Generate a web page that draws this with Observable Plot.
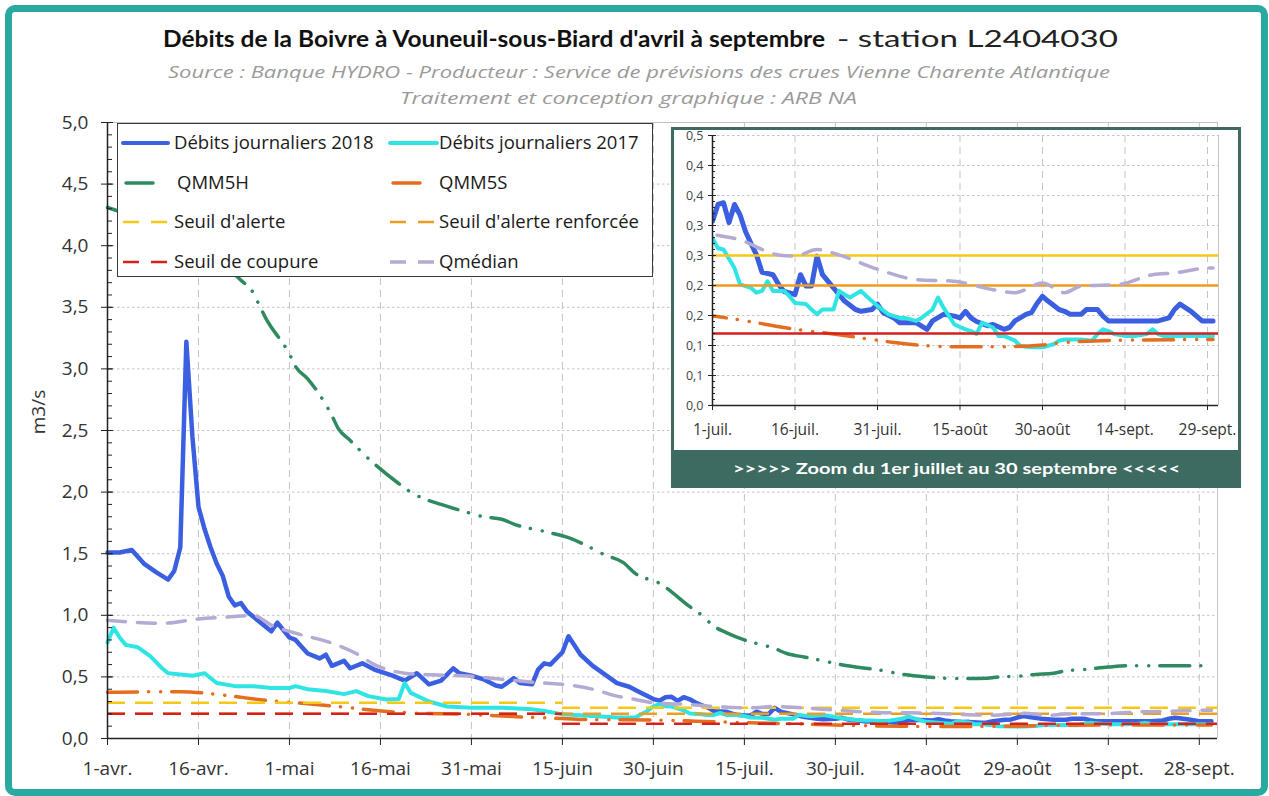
<!DOCTYPE html>
<html lang="fr"><head><meta charset="utf-8">
<script src="https://cdn.jsdelivr.net/npm/d3@7"></script>
<script src="https://cdn.jsdelivr.net/npm/@observablehq/plot@0.6"></script>
<style>
html,body{margin:0;padding:0;background:#fff;}
#page{position:relative;width:1269px;height:796px;overflow:hidden;background:#fff;font-family:"Open Sans",sans-serif;}
#page > *{position:absolute;}
#main{left:0;top:0;z-index:1;}
#legend{left:117px;top:123px;width:536px;height:154px;box-sizing:border-box;border:1px solid #3a3a3a;background:#fff;z-index:2;}
#inset{left:671px;top:127px;width:570px;height:361px;box-sizing:border-box;border:3px solid #3e6b61;background:#fff;z-index:2;}
#insetPlot{position:absolute;left:0;top:0;}
#banner{position:absolute;left:0;top:320px;width:564px;height:35px;background:#3e6b61;}
#overlay{left:0;top:0;z-index:3;pointer-events:none;}
#frame{left:5px;top:5px;width:1263px;height:791px;box-sizing:border-box;border:7px solid #2aa9a0;border-radius:10px;z-index:4;}
</style></head>
<body>
<div id="page">
  <div id="main"></div>
  <div id="legend"></div>
  <div id="inset"><div id="insetPlot"></div><div id="banner"></div></div>
  <svg id="overlay" width="1269" height="796"></svg>
  <div id="frame"></div>
</div>
<script>
// ---------------- DATA ----------------
const year = 2018;
const titleBold = "Débits de la Boivre à Vouneuil-sous-Biard d'avril à septembre";
const titleRest = "- station L2404030";
const subtitle1 = "Source : Banque HYDRO - Producteur : Service de prévisions des crues Vienne Charente Atlantique";
const subtitle2 = "Traitement et conception graphique : ARB NA";
const yLabel = "m3/s";
const bannerText = ">>>>> Zoom du 1er juillet au 30 septembre <<<<<";

const seriesNames = ["Débits journaliers 2018", "Débits journaliers 2017", "QMM5H", "QMM5S",
  "Seuil d'alerte", "Seuil d'alerte renforcée", "Seuil de coupure", "Qmédian"];

const debits2018 = [
["04-01",1.51],["04-03",1.51],["04-05",1.53],["04-07",1.42],["04-09",1.35],["04-11",1.29],["04-12",1.36],["04-13",1.55],["04-14",3.22],["04-15",2.45],["04-16",1.88],["04-17",1.70],["04-18",1.55],["04-19",1.42],["04-20",1.32],["04-21",1.15],["04-22",1.08],["04-23",1.10],["04-24",1.03],["04-26",0.95],["04-28",0.87],["04-29",0.94],
["05-01",0.82],["05-02",0.80],["05-04",0.69],["05-06",0.65],["05-07",0.68],["05-08",0.59],["05-10",0.63],["05-11",0.57],["05-13",0.61],["05-15",0.56],["05-18",0.51],["05-20",0.47],["05-22",0.53],["05-24",0.44],["05-26",0.47],["05-28",0.57],["05-29",0.53],["05-31",0.51],
["06-02",0.48],["06-04",0.43],["06-05",0.42],["06-07",0.49],["06-08",0.45],["06-10",0.44],["06-11",0.56],["06-12",0.61],["06-13",0.60],["06-15",0.70],["06-16",0.83],["06-18",0.68],["06-20",0.59],["06-24",0.45],["06-26",0.42],["06-28",0.37],["06-30",0.32],
["07-01",0.307],["07-02",0.335],["07-03",0.338],["07-04",0.305],["07-05",0.335],["07-06",0.318],["07-07",0.29],["07-08",0.27],["07-09",0.251],["07-10",0.222],["07-12",0.218],["07-13",0.202],["07-14",0.19],["07-16",0.185],["07-17",0.218],["07-18",0.199],["07-19",0.199],["07-20",0.249],["07-21",0.218],["07-23",0.196],["07-24",0.185],["07-25",0.174],["07-27",0.160],["07-28",0.157],["07-30",0.160],["07-31",0.169],
["08-01",0.155],["08-03",0.146],["08-04",0.138],["08-07",0.138],["08-09",0.127],["08-10",0.141],["08-12",0.152],["08-14",0.149],["08-15",0.146],["08-16",0.157],["08-17",0.146],["08-18",0.140],["08-20",0.133],["08-21",0.135],["08-23",0.127],["08-24",0.130],["08-25",0.141],["08-27",0.152],["08-28",0.155],["08-29",0.170],["08-30",0.182],["08-31",0.174],
["09-02",0.160],["09-03",0.157],["09-04",0.152],["09-06",0.152],["09-07",0.160],["09-09",0.160],["09-10",0.149],["09-11",0.141],["09-20",0.141],["09-22",0.146],["09-23",0.160],["09-24",0.169],["09-26",0.157],["09-27",0.149],["09-28",0.141],["09-30",0.141]
];

const debits2017 = [
["04-01",0.78],["04-02",0.90],["04-03",0.82],["04-04",0.76],["04-06",0.74],["04-08",0.67],["04-10",0.57],["04-11",0.53],["04-15",0.51],["04-17",0.53],["04-19",0.45],["04-22",0.425],["04-25",0.425],["04-28",0.41],
["05-01",0.41],["05-02",0.425],["05-04",0.40],["05-07",0.385],["05-10",0.36],["05-12",0.385],["05-14",0.344],["05-17",0.317],["05-19",0.32],["05-20",0.45],["05-21",0.37],["05-24",0.30],["05-27",0.26],["05-31",0.25],
["06-05",0.25],["06-10",0.237],["06-12",0.223],["06-15",0.196],["06-20",0.183],["06-24",0.17],["06-27",0.17],["06-29",0.223],["06-30",0.26],
["07-01",0.279],["07-02",0.262],["07-03",0.26],["07-05",0.229],["07-06",0.202],["07-08",0.196],["07-09",0.188],["07-10",0.191],["07-11",0.207],["07-12",0.191],["07-14",0.191],["07-15",0.182],["07-16",0.171],["07-18",0.169],["07-19",0.160],["07-20",0.152],["07-21",0.160],["07-23",0.160],["07-24",0.191],["07-25",0.185],["07-26",0.180],["07-28",0.191],["07-29",0.182],["07-31",0.166],
["08-02",0.152],["08-04",0.146],["08-05",0.146],["08-07",0.141],["08-08",0.146],["08-10",0.160],["08-11",0.180],["08-12",0.163],["08-13",0.149],["08-14",0.135],["08-16",0.127],["08-17",0.124],["08-18",0.119],["08-19",0.138],["08-21",0.130],["08-22",0.116],["08-23",0.116],["08-25",0.108],["08-26",0.099],["08-28",0.097],["08-30",0.097],
["09-01",0.102],["09-02",0.108],["09-03",0.110],["09-06",0.110],["09-08",0.108],["09-09",0.119],["09-10",0.127],["09-11",0.124],["09-12",0.119],["09-14",0.116],["09-16",0.116],["09-18",0.119],["09-19",0.127],["09-20",0.119],["09-21",0.116],["09-30",0.116]
];

const qmm5h = [
["04-01",4.31],["04-23",3.72],["04-25",3.62],["04-26",3.52],["04-27",3.42],["05-01",3.12],["05-02",3.02],["05-04",2.92],["05-08",2.62],["05-09",2.52],["05-11",2.42],["05-13",2.32],["05-19",2.07],["05-21",2.0],["05-23",1.95],["05-26",1.90],["05-30",1.84],
["06-02",1.80],["06-05",1.78],["06-07",1.74],["06-13",1.67],["06-16",1.63],["06-20",1.54],["06-22",1.49],["06-25",1.43],["06-27",1.34],["07-01",1.26],["07-06",1.07],["07-08",1.0],["07-10",0.91],["07-12",0.86],["07-15",0.80],["07-20",0.73],["07-22",0.69],["07-25",0.66],["07-28",0.63],
["08-01",0.59],["08-04",0.57],["08-07",0.55],["08-09",0.53],["08-14",0.50],["08-17",0.49],["08-21",0.487],["08-24",0.49],["08-26",0.50],["08-29",0.505],["09-01",0.52],["09-04",0.53],["09-06",0.55],["09-09",0.56],["09-13",0.58],["09-16",0.59],["09-30",0.59]
];

const qmm5s = [
["04-01",0.375],["04-06",0.378],["04-13",0.38],["04-20",0.353],["04-27",0.31],["05-02",0.29],["05-09",0.26],["05-14",0.233],["05-20",0.21],["05-31",0.195],["06-06",0.18],["06-13",0.166],["06-18",0.155],
["07-01",0.149],["07-07",0.141],["07-16",0.127],["07-23",0.119],["07-30",0.110],["08-03",0.105],["08-10",0.099],["08-15",0.098],["08-22",0.098],["08-30",0.101],["09-03",0.105],["09-14",0.109],["09-30",0.110]
];

const qmedian = [
["04-01",0.96],["04-10",0.935],["04-16",0.97],["04-22",0.99],["04-25",1.0],["04-28",0.92],["05-02",0.855],["05-08",0.774],["05-12",0.69],["05-15",0.60],["05-20",0.53],["05-23",0.52],["05-31",0.505],
["06-05",0.48],["06-12",0.45],["06-15",0.44],["06-20",0.40],["06-24",0.344],["06-27",0.317],["06-30",0.29],["07-06",0.276],["07-13",0.251],["07-16",0.249],["07-20",0.26],["07-24",0.251],["07-31",0.227],
["08-07",0.21],["08-14",0.207],["08-21",0.193],["08-25",0.188],["08-30",0.204],["09-03",0.188],["09-06",0.199],["09-13",0.202],["09-19",0.218],["09-23",0.221],["09-29",0.229],["09-30",0.229]
];

// thresholds: [start, end, value]
const seuilAlerte = [["04-01","06-15",0.29],["06-15","10-01",0.25]];
const seuilRenforcee = [["04-01","10-01",0.20]];
const seuilCoupure = [["04-01","06-15",0.20],["06-15","10-01",0.12]];

const mainDomain = ["04-01","10-01"];
const mainTickDates = ["04-01","04-16","05-01","05-16","05-31","06-15","06-30","07-15","07-30","08-14","08-29","09-13","09-28"];
const mainTickLabels = ["1-avr.","16-avr.","1-mai","16-mai","31-mai","15-juin","30-juin","15-juil.","30-juil.","14-août","29-août","13-sept.","28-sept."];
const mainYTicks = [0,0.5,1,1.5,2,2.5,3,3.5,4,4.5,5];

const insetDomain = ["07-01","10-01"];
const insetTickDates = ["07-01","07-16","07-31","08-15","08-30","09-14","09-29"];
const insetTickLabels = ["1-juil.","16-juil.","31-juil.","15-août","30-août","14-sept.","29-sept."];
const insetYTicks = [0,0.05,0.1,0.15,0.2,0.25,0.3,0.35,0.4,0.45];
const insetYTickLabels = ["0,0","0,1","0,1","0,2","0,2","0,3","0,3","0,4","0,4","0,5"];

// ---------------- HELPERS ----------------
const D = s => new Date(Date.UTC(year, +s.slice(0,2) - 1, +s.slice(3,5)));
const rows = arr => arr.map(([d, v]) => ({date: D(d), value: v}));
const segs = arr => arr.map(([a, b, v]) => ({start: D(a), end: D(b), value: v}));

const styles = {
  "Débits journaliers 2018": {stroke: "#3a5fe0", strokeWidth: 4.5, strokeLinejoin: "round", strokeLinecap: "round"},
  "Débits journaliers 2017": {stroke: "#30e4e4", strokeWidth: 4, strokeLinejoin: "round", strokeLinecap: "round"},
  "QMM5H": {stroke: "#2f8a60", strokeWidth: 3.5, strokeDasharray: "30,11,0.1,12,0.1,11", strokeLinecap: "round", curve: "monotone-x"},
  "QMM5S": {stroke: "#e56d1f", strokeWidth: 3.5, strokeDasharray: "30,11,0.1,12,0.1,11", strokeLinecap: "round", curve: "monotone-x"},
  "Seuil d'alerte": {stroke: "#f5c816", strokeWidth: 2.5, strokeDasharray: "18,10"},
  "Seuil d'alerte renforcée": {stroke: "#ee9d1e", strokeWidth: 2.5, strokeDasharray: "18,10"},
  "Seuil de coupure": {stroke: "#d4201f", strokeWidth: 2.5, strokeDasharray: "18,10"},
  "Qmédian": {stroke: "#b4aad3", strokeWidth: 3.5, strokeDasharray: "18,12", curve: "monotone-x"}
};
const lineData = {
  "Débits journaliers 2018": rows(debits2018),
  "Débits journaliers 2017": rows(debits2017),
  "QMM5H": rows(qmm5h),
  "QMM5S": rows(qmm5s),
  "Qmédian": rows(qmedian)
};
const ruleData = {
  "Seuil d'alerte": segs(seuilAlerte),
  "Seuil d'alerte renforcée": segs(seuilRenforcee),
  "Seuil de coupure": segs(seuilCoupure)
};

function seriesMarks(inset) {
  return seriesNames.map(name => {
    const st = {...styles[name]};
    if (ruleData[name]) {
      if (inset) delete st.strokeDasharray;
      return Plot.ruleY(ruleData[name], {y: "value", x1: "start", x2: "end", clip: inset, ...st});
    }
    const o = {x: "date", y: "value", clip: inset, ...st};
    if (inset && name === "Débits journaliers 2018") o.strokeWidth = 5;
    return Plot.line(lineData[name], o);
  });
}

// ---------------- MAIN CHART ----------------
const mainX = mainDomain.map(D);
const commaFmt = d => d.toFixed(1).replace(".", ",");
const mainPlot = Plot.plot({
  width: 1269, height: 796,
  marginLeft: 107, marginRight: 52, marginTop: 122, marginBottom: 58,
  x: {type: "utc", domain: mainX},
  y: {domain: [0, 5]},
  style: {background: "white", fontFamily: "'Open Sans', sans-serif", color: "#2a2a2a", overflow: "visible"},
  marks: [
    Plot.ruleY(mainYTicks.filter(v => v > 0 && v < 5), {stroke: "#c4c4c4", strokeDasharray: "2.5,2.5"}),
    Plot.ruleX(mainTickDates.slice(1).map(D), {stroke: "#c4c4c4", strokeDasharray: "7,5"}),
    Plot.ruleY([5], {stroke: "#c4c4c4"}),
    Plot.ruleX([mainX[1]], {stroke: "#c4c4c4"}),
    ...seriesMarks(false),
    Plot.ruleX([mainX[0]], {stroke: "#222", strokeWidth: 1.5}),
    Plot.ruleY([0], {stroke: "#222", strokeWidth: 1.5}),
    Plot.axisY({ticks: 50, tickSize: -5, tickFormat: () => "", label: null, stroke: "#222"}),
    Plot.axisY({ticks: mainYTicks, tickSize: -6, tickFormat: () => "", label: null, stroke: "#222"}),
    Plot.axisY({ticks: mainYTicks, tickSize: 6, tickPadding: 13, fontSize: 19, fill: "#333", stroke: "#222", tickFormat: commaFmt, label: null}),
    Plot.axisX({ticks: mainTickDates.map(D), tickSize: 7, tickPadding: 16, fontSize: 19, fill: "#333", stroke: "#222", label: null,
      tickFormat: d => mainTickLabels[mainTickDates.findIndex(s => +D(s) === +d)]})
  ]
});
document.getElementById("main").append(mainPlot);

// ---------------- INSET ----------------
const insetX = insetDomain.map(D);
const insetPlot = Plot.plot({
  width: 564, height: 320,
  marginLeft: 38, marginRight: 20, marginTop: 5, marginBottom: 45,
  x: {type: "utc", domain: insetX},
  y: {domain: [0, 0.45]},
  style: {background: "white", fontFamily: "'Open Sans', sans-serif", color: "#2a2a2a", overflow: "visible"},
  marks: [
    Plot.ruleY(insetYTicks.filter(v => v > 0), {stroke: "#c4c4c4", strokeDasharray: "2.5,2.5"}),
    Plot.ruleX(insetTickDates.slice(1).map(D), {stroke: "#c4c4c4", strokeDasharray: "7,5"}),
    Plot.ruleX([insetX[1]], {stroke: "#c4c4c4"}),
    ...seriesMarks(true),
    Plot.ruleX([insetX[0]], {stroke: "#222", strokeWidth: 1.5}),
    Plot.ruleY([0], {stroke: "#222", strokeWidth: 1.5}),
    Plot.axisY({ticks: 45, tickSize: -3, tickFormat: () => "", label: null, stroke: "#222"}),
    Plot.axisY({ticks: insetYTicks, tickSize: -4, tickFormat: () => "", label: null, stroke: "#222"}),
    Plot.axisY({ticks: insetYTicks, tickSize: 4, tickPadding: 5, fontSize: 12.5, fill: "#444", stroke: "#222", label: null,
      tickFormat: d => insetYTickLabels[insetYTicks.indexOf(d)]}),
    Plot.axisX({ticks: insetTickDates.map(D), tickSize: 5, tickPadding: 13, fontSize: 15.5, fill: "#333", stroke: "#222", label: null,
      tickFormat: d => insetTickLabels[insetTickDates.findIndex(s => +D(s) === +d)]})
  ]
});
document.getElementById("insetPlot").append(insetPlot);

// ---------------- LEGEND ----------------
const lg = d3.select("#legend").append("svg").attr("width", 534).attr("height", 152)
  .style("position", "absolute").style("left", "0px").style("top", "0px");
const rowY = [19, 59, 98, 138];
const colSwatch = [[5, 50], [272, 319]];
const colText = [56, 321];
seriesNames.forEach((name, i) => {
  const col = i % 2, row = Math.floor(i / 2);
  const st = styles[name];
  const y = rowY[row];
  let [x1, x2] = colSwatch[col];
  let dash = null;
  if (name === "QMM5H" || name === "QMM5S") { x1 += 3; x2 = x1 + 27; }
  else if (st.strokeDasharray) { dash = "16,12"; }
  lg.append("line").attr("x1", x1).attr("x2", x2).attr("y1", y).attr("y2", y)
    .attr("stroke", st.stroke).attr("stroke-width", Math.min(st.strokeWidth, 4))
    .attr("stroke-dasharray", dash).attr("stroke-linecap", dash ? "butt" : "round");
  lg.append("text").attr("x", colText[col] + (name === "QMM5H" ? 3 : 0)).attr("y", y).attr("dy", "0.35em")
    .attr("font-family", "'Open Sans', sans-serif").attr("font-size", 18.5).attr("fill", "#1a1a1a").text(name);
});

// ---------------- TITLES / OVERLAY ----------------
const ov = d3.select("#overlay");
const addText = (txt, x, y, len, opts) => {
  const t = ov.append("text").attr("x", x).attr("y", y).text(txt)
    .attr("textLength", len).attr("lengthAdjust", "spacingAndGlyphs");
  Object.entries(opts).forEach(([k, v]) => t.attr(k, v));
  return t;
};
addText(titleBold, 163, 47, 662, {"font-family": "Lato, 'Open Sans', sans-serif", "font-weight": "bold", "font-size": 23, fill: "#111"});
addText(titleRest, 837, 47, 281, {"font-family": "Lato, 'Open Sans', sans-serif", "font-size": 23, fill: "#222"});
addText(subtitle1, 168, 78, 942, {"font-family": "'Open Sans', sans-serif", "font-style": "italic", "font-size": 17, fill: "#9a9a9a"});
addText(subtitle2, 400, 104, 457, {"font-family": "'Open Sans', sans-serif", "font-style": "italic", "font-size": 17, fill: "#9a9a9a"});
ov.append("text").attr("transform", "translate(38,412) rotate(-90)").attr("text-anchor", "middle").attr("dy", "0.35em")
  .attr("font-family", "'Open Sans', sans-serif").attr("font-size", 19).attr("fill", "#333").text(yLabel);
addText(bannerText, 733, 474, 447, {"font-family": "Lato, 'Open Sans', sans-serif", "font-weight": "bold", "font-size": 16, fill: "#ffffff"});
</script>
</body></html>
